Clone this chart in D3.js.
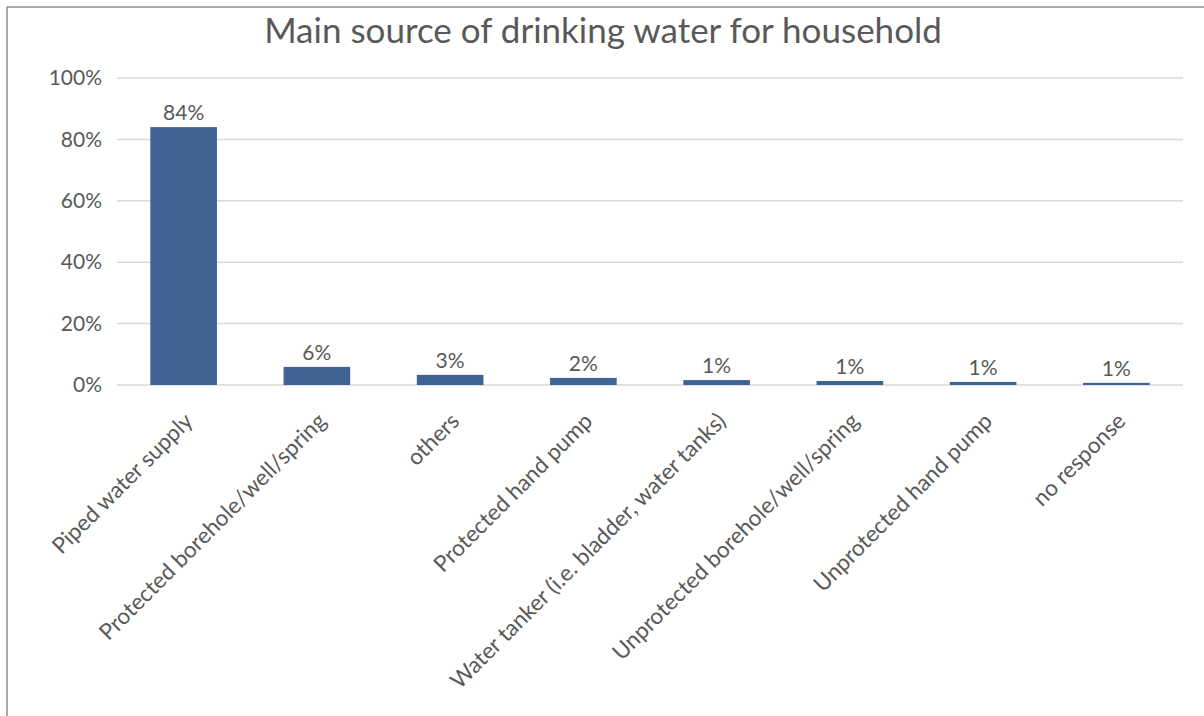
<!DOCTYPE html>
<html>
<head>
<meta charset="utf-8">
<script src="https://cdn.jsdelivr.net/npm/d3@7"></script>
<style>
  html, body { margin: 0; padding: 0; background: #ffffff; }
  svg { display: block; }
  text { font-family: Lato, "Liberation Sans", sans-serif; fill: #595959; }
</style>
</head>
<body>
<svg id="chart" width="1204" height="716"></svg>
<script>
const title = "Main source of drinking water for household";
const categories = [
  "Piped water supply",
  "Protected borehole/well/spring",
  "others",
  "Protected hand pump",
  "Water tanker (i.e. bladder, water tanks)",
  "Unprotected borehole/well/spring",
  "Unprotected hand pump",
  "no response"
];
const values = [0.84, 0.059, 0.033, 0.023, 0.016, 0.013, 0.010, 0.007];
const valueLabels = ["84%", "6%", "3%", "2%", "1%", "1%", "1%", "1%"];
const yTicks = [0, 0.2, 0.4, 0.6, 0.8, 1.0];

const svg = d3.select("#chart");
const W = 1204, H = 716;
const plot = { left: 117, right: 1183, top: 78, bottom: 385 };

// frame (top and left edges only visible)
svg.append("line").attr("x1", 7).attr("x2", W).attr("y1", 7).attr("y2", 7)
  .attr("stroke", "#8c8c8c").attr("stroke-width", 1.5);
svg.append("line").attr("x1", 7).attr("x2", 7).attr("y1", 7).attr("y2", H)
  .attr("stroke", "#8c8c8c").attr("stroke-width", 1.5);

const x = d3.scaleBand().domain(categories).range([plot.left, plot.right]).paddingInner(0.5).paddingOuter(0.25);
const y = d3.scaleLinear().domain([0, 1]).range([plot.bottom, plot.top]);

// gridlines
svg.append("g").selectAll("line").data(yTicks).join("line")
  .attr("x1", plot.left).attr("x2", plot.right)
  .attr("y1", d => y(d)).attr("y2", d => y(d))
  .attr("stroke", "#d9d9d9").attr("stroke-width", 1.5);

// y axis labels
const yAxis = d3.axisLeft(y).tickValues(yTicks).tickFormat(d3.format(".0%")).tickSize(0).tickPadding(15);
const yg = svg.append("g").attr("transform", `translate(${plot.left},0)`).call(yAxis);
yg.select(".domain").remove();
yg.selectAll("text").attr("font-size", 21).attr("fill", "#595959")
  .style("font-family", "Lato, 'Liberation Sans', sans-serif");

// bars
svg.append("g").selectAll("rect").data(values).join("rect")
  .attr("x", (d, i) => x(categories[i]))
  .attr("width", x.bandwidth())
  .attr("y", d => y(d))
  .attr("height", d => y(0) - y(d))
  .attr("fill", "#3f6493");

// data labels
svg.append("g").selectAll("text").data(values).join("text")
  .attr("x", (d, i) => x(categories[i]) + x.bandwidth() / 2)
  .attr("y", d => y(d) - 7)
  .attr("text-anchor", "middle")
  .attr("font-size", 21)
  .text((d, i) => valueLabels[i]);

// category labels
svg.append("g").selectAll("text").data(categories).join("text")
  .attr("transform", d => `translate(${x(d) + x.bandwidth() / 2 + 5},${plot.bottom + 32}) rotate(-45)`)
  .attr("text-anchor", "end")
  .attr("dy", "0.35em")
  .attr("font-size", 22.5)
  .text(d => d);

// title
svg.append("text")
  .attr("x", 603).attr("y", 43)
  .attr("text-anchor", "middle")
  .attr("font-size", 35)
  .text(title);
</script>
</body>
</html>
